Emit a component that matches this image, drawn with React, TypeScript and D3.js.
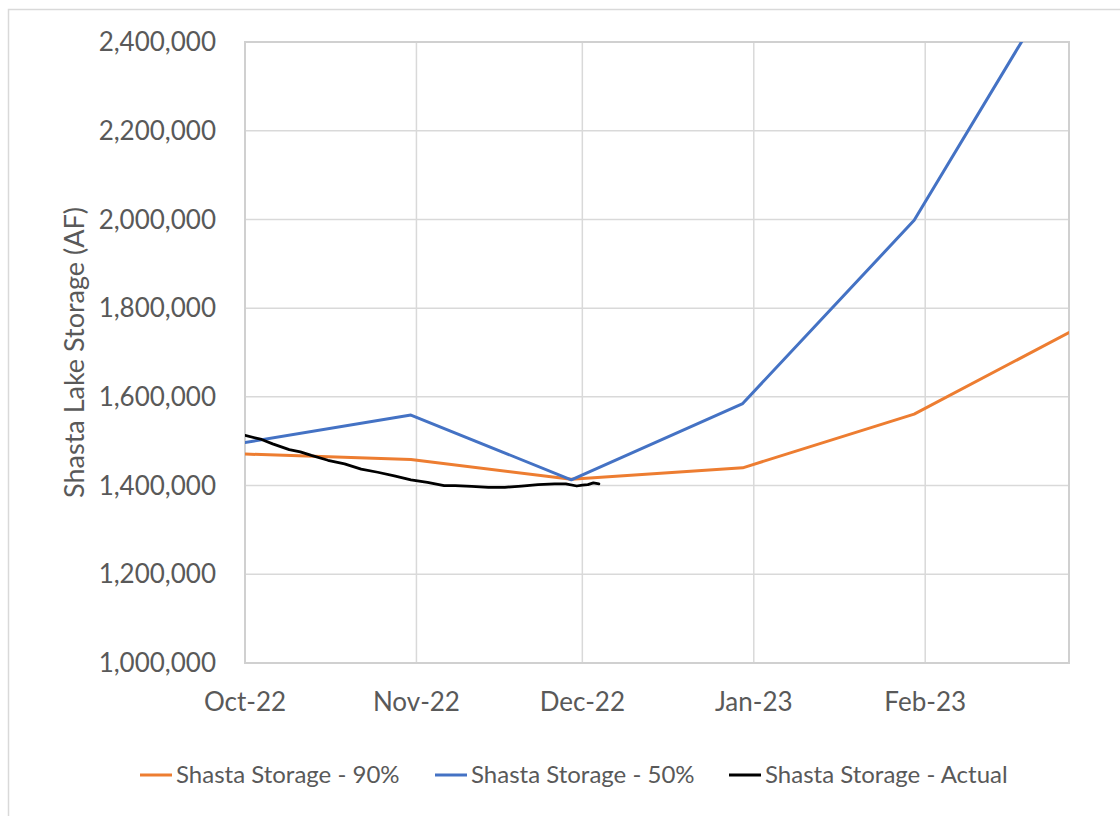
import React, { useRef, useEffect } from 'react';
import * as d3 from 'd3';

// y axis ticks (acre-feet)
const yTicks = [1000000, 1200000, 1400000, 1600000, 1800000, 2000000, 2200000, 2400000];
const monthTicks = ['2022-10-01', '2022-11-01', '2022-12-01', '2023-01-01', '2023-02-01'];
const monthLabels = ['Oct-22', 'Nov-22', 'Dec-22', 'Jan-23', 'Feb-23'];

// monthly forecast points
const forecastDates = ['2022-10-01', '2022-10-31', '2022-11-29', '2022-12-30', '2023-01-30', '2023-02-27'];
const storage90 = [1471000, 1459000, 1414000, 1440000, 1561000, 1745000];
const storage50 = [1497000, 1559000, 1413000, 1585000, 1998000, 2578000];

// observed storage
const actualDates = [
  '2022-10-01', '2022-10-04', '2022-10-06', '2022-10-09', '2022-10-11', '2022-10-13',
  '2022-10-16', '2022-10-19', '2022-10-22', '2022-10-25', '2022-10-28', '2022-10-31',
  '2022-11-03', '2022-11-06', '2022-11-08', '2022-11-11', '2022-11-14', '2022-11-17',
  '2022-11-20', '2022-11-23', '2022-11-26', '2022-11-28', '2022-11-30', '2022-12-01',
  '2022-12-02', '2022-12-03', '2022-12-04'
];
const actualValues = [
  1513000, 1504000, 1494000, 1481000, 1476000, 1468000,
  1457000, 1449000, 1437000, 1430000, 1422000, 1413000,
  1407000, 1400000, 1400000, 1398000, 1396000, 1396000,
  1399000, 1402000, 1404000, 1404000, 1399000, 1401000,
  1402000, 1406000, 1404000
];

const legendItems = [
  { name: 'Shasta Storage - 90%', color: '#ED7D31' },
  { name: 'Shasta Storage - 50%', color: '#4472C4' },
  { name: 'Shasta Storage - Actual', color: '#000000' }
];

const FONT = 'Lato, "Open Sans", sans-serif';
const TEXT = '#595959';

const ShastaChart = () => {
  const svgRef = useRef<SVGSVGElement>(null);

  useEffect(() => {
    const width = 1120;
    const height = 816;
    const left = 245, right = 1069, top = 42, bottom = 663;
    const parse = d3.timeParse('%Y-%m-%d');

    const x = d3.scaleTime()
      .domain([parse('2022-10-01')!, parse('2023-02-27')!])
      .range([left, right]);

    const y = d3.scaleLinear()
      .domain([1000000, 2400000])
      .range([bottom, top]);

    const svg = d3.select(svgRef.current)
      .attr('width', width)
      .attr('height', height);

    svg.selectAll('*').remove();

    // chart area border
    svg.append('rect')
      .attr('x', 8.5).attr('y', 9.5)
      .attr('width', 1200).attr('height', 900)
      .attr('fill', '#fff')
      .attr('stroke', '#d9d9d9')
      .attr('stroke-width', 1.5);

    // gridlines
    svg.append('g')
      .selectAll('line')
      .data(yTicks)
      .join('line')
      .attr('x1', left).attr('x2', right)
      .attr('y1', d => y(d)).attr('y2', d => y(d))
      .attr('stroke', '#d9d9d9')
      .attr('stroke-width', 1.5);

    svg.append('g')
      .selectAll('line')
      .data(monthTicks.slice(1))
      .join('line')
      .attr('x1', d => x(parse(d)!)).attr('x2', d => x(parse(d)!))
      .attr('y1', top).attr('y2', bottom)
      .attr('stroke', '#d9d9d9')
      .attr('stroke-width', 1.5);

    // plot border
    svg.append('rect')
      .attr('x', left).attr('y', top)
      .attr('width', right - left).attr('height', bottom - top)
      .attr('fill', 'none')
      .attr('stroke', '#d0d0d0')
      .attr('stroke-width', 2);

    // y tick labels
    svg.append('g')
      .attr('font-family', FONT)
      .attr('font-size', 26)
      .attr('fill', TEXT)
      .attr('text-anchor', 'end')
      .selectAll('text')
      .data(yTicks)
      .join('text')
      .attr('x', 216)
      .attr('y', d => y(d))
      .attr('dy', '0.35em')
      .text(d => d3.format(',')(d));

    // x tick labels
    svg.append('g')
      .attr('font-family', FONT)
      .attr('font-size', 26)
      .attr('fill', TEXT)
      .attr('text-anchor', 'middle')
      .selectAll('text')
      .data(monthTicks)
      .join('text')
      .attr('x', d => x(parse(d)!))
      .attr('y', 702)
      .attr('dy', '0.35em')
      .text((d, i) => monthLabels[i]);

    // y axis title
    svg.append('text')
      .attr('transform', `translate(75,${(top + bottom) / 2}) rotate(-90)`)
      .attr('font-family', FONT)
      .attr('font-size', 27)
      .attr('fill', TEXT)
      .attr('text-anchor', 'middle')
      .attr('dy', '0.35em')
      .text('Shasta Lake Storage (AF)');

    // clip to plot
    svg.append('clipPath')
      .attr('id', 'plot-clip')
      .append('rect')
      .attr('x', left).attr('y', top)
      .attr('width', right - left).attr('height', bottom - top);

    const line = d3.line<[Date, number]>()
      .x(d => x(d[0]))
      .y(d => y(d[1]));

    const series = [
      { dates: forecastDates, values: storage90, color: '#ED7D31', width: 3 },
      { dates: forecastDates, values: storage50, color: '#4472C4', width: 3 },
      { dates: actualDates, values: actualValues, color: '#000000', width: 2.75 }
    ];

    const lines = svg.append('g').attr('clip-path', 'url(#plot-clip)');
    series.forEach(s => {
      lines.append('path')
        .datum(s.dates.map((d, i) => [parse(d)!, s.values[i]] as [Date, number]))
        .attr('fill', 'none')
        .attr('stroke', s.color)
        .attr('stroke-width', s.width)
        .attr('stroke-linejoin', 'round')
        .attr('stroke-linecap', 'round')
        .attr('d', line);
    });

    // legend
    const legendX = [140, 435, 729];
    const legend = svg.append('g')
      .attr('font-family', FONT)
      .attr('font-size', 24)
      .attr('fill', TEXT)
      .selectAll('g')
      .data(legendItems)
      .join('g')
      .attr('transform', (d, i) => `translate(${legendX[i]},775)`);

    legend.append('line')
      .attr('x1', 0).attr('x2', 32)
      .attr('stroke', d => d.color)
      .attr('stroke-width', 3);

    legend.append('text')
      .attr('x', 36)
      .attr('dy', '0.35em')
      .text(d => d.name);
  }, []);

  return <svg ref={svgRef} style={{ position: 'absolute', left: 0, top: 0 }}></svg>;
};

export default function App() {
  return <ShastaChart />;
}
